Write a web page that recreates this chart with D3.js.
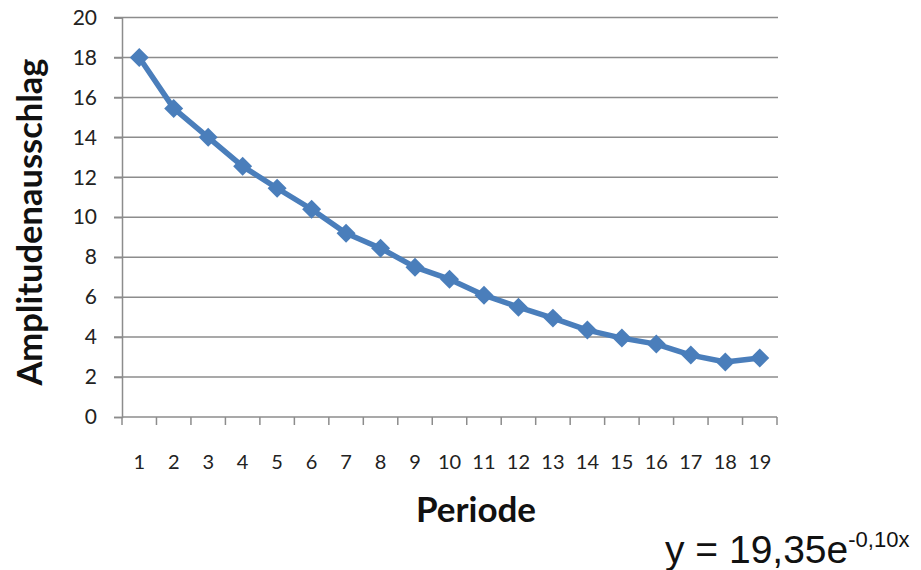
<!DOCTYPE html>
<html><head><meta charset="utf-8">
<script src="https://cdn.jsdelivr.net/npm/d3@7"></script>
<style>body{margin:0;background:#fff}</style>
</head><body>
<svg id="c" width="921" height="570"></svg>
<script>
const categories = ["1","2","3","4","5","6","7","8","9","10","11","12","13","14","15","16","17","18","19"];
const amplitude = [18.0,15.45,14.0,12.55,11.45,10.4,9.2,8.45,7.5,6.9,6.1,5.5,4.95,4.35,3.95,3.65,3.1,2.75,2.95];
const yTicks = [0,2,4,6,8,10,12,14,16,18,20];
const xTitle = "Periode";
const yTitle = "Amplitudenausschlag";

const svg = d3.select("#c");
const L = 122, R = 777, T = 17.5, B = 417;
const x = d3.scaleBand().domain(categories).range([L, R]);
const y = d3.scaleLinear().domain([0, 20]).range([B, T]);
const grey = "#8c8c8c";
const font = "Lato, 'Open Sans', sans-serif";

// gridlines
svg.append("g").selectAll("line").data(yTicks.filter(d=>d>0)).join("line")
  .attr("x1", L - 8).attr("x2", R + 1)
  .attr("y1", d=>y(d)).attr("y2", d=>y(d))
  .attr("stroke", grey).attr("stroke-width", 1.5);

// y axis
const ya = svg.append("g").attr("transform", `translate(${L},0)`)
  .call(d3.axisLeft(y).tickValues(yTicks).tickSize(8).tickPadding(17));
ya.select(".domain").attr("stroke", grey).attr("stroke-width", 1.5);
ya.selectAll(".tick line").attr("stroke", grey).attr("stroke-width", 1.5);
ya.selectAll("text").attr("font-family", font).attr("font-size", 21).attr("fill", "#222");

// x axis with ticks between categories
const xa = svg.append("g").attr("transform", `translate(0,${B})`);
xa.append("line").attr("x1", L).attr("x2", R).attr("stroke", grey).attr("stroke-width", 1.5);
const bounds = categories.map(c => x(c)).concat([x(categories[categories.length-1]) + x.bandwidth()]);
xa.selectAll("line.t").data(bounds).join("line").attr("class","t")
  .attr("x1", d=>d).attr("x2", d=>d).attr("y1", 0).attr("y2", 8)
  .attr("stroke", grey).attr("stroke-width", 1.5);
xa.selectAll("text").data(categories).join("text")
  .attr("x", d => x(d) + x.bandwidth()/2).attr("y", 52)
  .attr("text-anchor", "middle").attr("font-family", font).attr("font-size", 20).attr("fill", "#222")
  .text(d=>d);

// line
const line = d3.line().x((d,i)=>x(categories[i]) + x.bandwidth()/2).y(d=>y(d));
svg.append("path").datum(amplitude).attr("d", line)
  .attr("fill","none").attr("stroke","#4a7ebb").attr("stroke-width",5.5).attr("stroke-linejoin","round");
svg.append("g").selectAll("path").data(amplitude).join("path")
  .attr("d", d3.symbol().type(d3.symbolDiamond2).size(230))
  .attr("transform", (d,i)=>`translate(${x(categories[i]) + x.bandwidth()/2},${y(d)})`)
  .attr("fill","#4a7ebb");

// titles
svg.append("text").attr("x", 476).attr("y", 522).attr("text-anchor","middle")
  .attr("font-family", font).attr("font-weight","bold").attr("font-size", 35).attr("fill","#111").text(xTitle);
svg.append("text").attr("transform", "translate(42,222) rotate(-90)").attr("text-anchor","middle")
  .attr("font-family", font).attr("font-weight","bold").attr("font-size", 34.5).attr("fill","#111").text(yTitle);

// trendline equation
const eq = svg.append("text").attr("x", 665).attr("y", 563)
  .attr("font-family","'Liberation Sans', Arial, sans-serif").attr("font-size", 39).attr("fill","#111");
eq.append("tspan").text("y = 19,35e");
eq.append("tspan").attr("font-size", 22).attr("dy", -16).text("-0,10x");
</script>
</body></html>
